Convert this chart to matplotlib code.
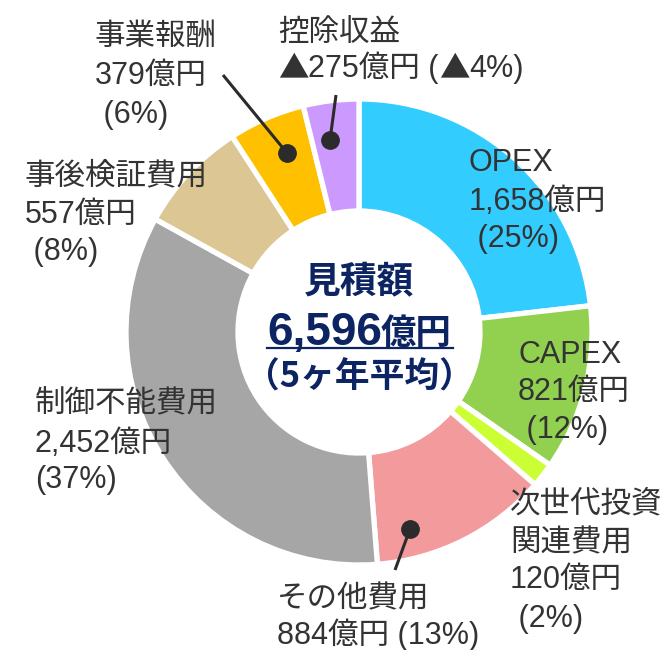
import matplotlib
matplotlib.use("Agg")
import matplotlib.pyplot as plt

# ---- data ----
categories = ["OPEX", "CAPEX", "次世代投資関連費用", "その他費用", "制御不能費用",
              "事後検証費用", "事業報酬", "控除収益"]
values = [1658, 821, 120, 884, 2452, 557, 379, 275]
colors = ["#33CCFF", "#92D050", "#CCFF33", "#F29A9C", "#A6A6A6",
          "#DCC794", "#FFC000", "#CC99FF"]
label_lines = [
    ["OPEX", "1,658億円", " (25%)"],
    ["CAPEX", "821億円", " (12%)"],
    ["次世代投資", "関連費用", "120億円", " (2%)"],
    ["その他費用", "884億円 (13%)"],
    ["制御不能費用", "2,452億円", "(37%)"],
    ["事後検証費用", "557億円", " (8%)"],
    ["事業報酬", "379億円", " (6%)"],
    ["控除収益", "▲275億円 (▲4%)"],
]
center_title = "見積額"
center_total = "6,596"
center_unit = "億円"
center_note = "（5ヶ年平均）"

# ---- layout (image pixel coordinates, y from top) ----
W, H = 671, 650
def Y(y):
    return H - y

label_pos = [
    (469, [171, 210, 247]),
    (518, [363, 400, 438]),
    (510, [512, 551, 588, 627]),
    (277, [607, 644]),
    (35, [412, 452, 488]),
    (25, [184, 223, 260]),
    (95, [45, 84, 123]),
    (278, [41, 77]),
]
leaders = {  # index: (dot, line end)
    6: ((287, 153), (223, 75)),
    7: ((330, 140), (336, 95)),
    3: ((410, 529), (395, 570)),
}

fam = ["Liberation Sans", "Noto Sans CJK JP", "DejaVu Sans"]
cjk = ["Noto Sans CJK JP", "DejaVu Sans"]
txt_color = "#333333"
navy = "#0D2463"

fig = plt.figure(figsize=(W / 100, H / 100), dpi=100)
ax = fig.add_axes([0, 0, 1, 1])
ax.pie(values, colors=colors, startangle=90, counterclock=False,
       center=(359, Y(332)), radius=233,
       wedgeprops=dict(width=112, edgecolor="white", linewidth=3.8))
ax.set_xlim(0, W)
ax.set_ylim(0, H)
ax.set_aspect("equal")
ax.axis("off")
renderer = fig.canvas.get_renderer()


def draw_line(x, yb, line, size=22):
    # split off ▲ so it is drawn with the CJK font (full-width triangle)
    pieces = []
    buf = ""
    for ch in line:
        if ch == "▲":
            if buf:
                pieces.append((buf, fam))
                buf = ""
            pieces.append((ch, cjk))
        else:
            buf += ch
    if buf:
        pieces.append((buf, fam))
    cx = x
    for s, f in pieces:
        t = ax.text(cx, Y(yb), s, family=f, fontsize=size, color=txt_color,
                    ha="left", va="baseline")
        bb = t.get_window_extent(renderer=renderer)
        cx += bb.width


for lines, (x, ys) in zip(label_lines, label_pos):
    for line, yb in zip(lines, ys):
        draw_line(x, yb, line)

for i, (dot, end) in leaders.items():
    ax.plot([dot[0], end[0]], [Y(dot[1]), Y(end[1])], color="#2B2B2B", lw=2.2,
            solid_capstyle="butt")
    ax.plot(dot[0], Y(dot[1]), "o", color="#2B2B2B", markersize=12.5)

# center text
ax.text(359, Y(293), center_title, family=["Noto Sans CJK JP"], fontweight="bold",
        fontsize=26.5, color=navy, ha="center", va="baseline")
ax.text(382, Y(345), center_total, family=["Liberation Sans"], fontweight="bold",
        fontsize=33, color=navy, ha="right", va="baseline")
ax.text(381, Y(344), center_unit, family=["Noto Sans CJK JP"], fontweight="bold",
        fontsize=25.5, color=navy, ha="left", va="baseline")
ax.plot([267, 453], [Y(348), Y(348)], color=navy, lw=1.6)
ax.text(359, Y(388), center_note, family=["Noto Sans CJK JP"], fontweight="bold",
        fontsize=25, color=navy, ha="center", va="baseline")

fig.savefig("out.png", dpi=100)
